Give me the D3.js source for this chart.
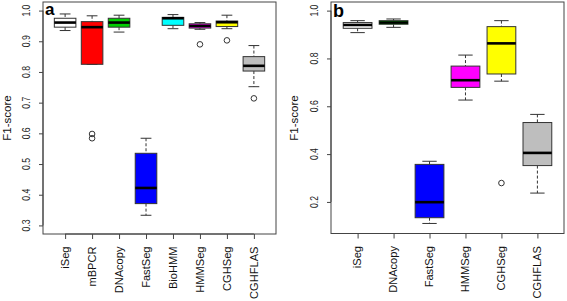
<!DOCTYPE html>
<html><head><meta charset="utf-8">
<script src="https://cdn.jsdelivr.net/npm/d3@7"></script>
<style>body{margin:0;background:#fff}svg{display:block;font-family:"Liberation Sans",Arial,sans-serif}</style>
</head><body><svg id="c" width="567" height="301"></svg>
<script>
// Panel a data
const catsA = ["iSeg","mBPCR","DNAcopy","FastSeg","BioHMM","HMMSeg","CGHSeg","CGHFLAS"];
const colorsA = ["#ffffff","#ff0000","#00cd00","#0000ff","#00ffff","#ff00ff","#ffff00","#bebebe"];
const lowA  = [0.935,0.825,0.930,0.333,0.941,0.939,0.941,0.752];
const q1A   = [0.946,0.825,0.946,0.371,0.952,0.943,0.948,0.803];
const medA  = [0.961,0.946,0.961,0.422,0.975,0.950,0.962,0.820];
const q3A   = [0.975,0.964,0.975,0.535,0.978,0.957,0.966,0.850];
const highA = [0.989,0.983,0.985,0.584,0.987,0.961,0.985,0.886];
const outA  = [[],[0.598,0.584],[],[],[],[0.890],[0.903],[0.714]];
const ticksA = [0.3,0.4,0.5,0.6,0.7,0.8,0.9,1.0];

// Panel b data
const catsB = ["iSeg","DNAcopy","FastSeg","HMMSeg","CGHSeg","CGHFLAS"];
const colorsB = ["#ffffff","#00cd00","#0000ff","#ff00ff","#ffff00","#bebebe"];
const lowB  = [0.908,0.930,0.110,0.626,0.705,0.237];
const q1B   = [0.926,0.943,0.134,0.679,0.735,0.352];
const medB  = [0.940,0.950,0.199,0.709,0.863,0.405];
const q3B   = [0.950,0.958,0.357,0.768,0.933,0.532];
const highB = [0.958,0.965,0.370,0.814,0.958,0.566];
const outB  = [[],[],[],[],[0.279],[]];
const ticksB = [0.2,0.4,0.6,0.8,1.0];

const svg = d3.select("#c");

function panel(cfg){
  const {left,right,top,bottom,yDomain,cats,colors,low,q1,med,q3,high,out,ticks,letter,letterY,letterSize,ylabX,tickLabX} = cfg;
  const n = cats.length;
  const pad = n * 0.04;
  const x = d3.scaleLinear().domain([0.5 - pad, n + 0.5 + pad]).range([left, right]);
  const y = d3.scaleLinear().domain(yDomain).range([bottom, top]);
  const step = x(2) - x(1);
  const bw = step * 0.8;
  const g = svg.append("g");

  // y axis
  const yAxis = d3.axisLeft(y).tickValues(ticks).tickSize(4).tickFormat("");
  const ya = g.append("g").attr("transform", `translate(${left},0)`).call(yAxis);
  ya.select(".domain").attr("stroke","none");
  ya.selectAll(".tick line").attr("stroke","#444");
  g.append("line").attr("x1",left).attr("x2",left).attr("y1",y(ticks[0])).attr("y2",y(ticks[ticks.length-1])).attr("stroke","#444");
  g.selectAll(".ytl").data(ticks).enter().append("text")
    .attr("transform", d => `translate(${tickLabX},${y(d)}) rotate(-90)`)
    .attr("text-anchor","middle").attr("font-size",11).attr("fill","#222")
    .attr("textLength", 12).attr("lengthAdjust","spacingAndGlyphs")
    .text(d => d3.format(".1f")(d));

  // x axis
  const xa = g.append("g").attr("transform", `translate(0,${bottom})`)
    .call(d3.axisBottom(x).tickValues(d3.range(1, n+1)).tickSize(5).tickFormat(""));
  xa.select(".domain").attr("stroke","none");
  xa.selectAll(".tick line").attr("stroke","#444");
  g.append("line").attr("x1",x(1)).attr("x2",x(n)).attr("y1",bottom).attr("y2",bottom).attr("stroke","#444");
  g.selectAll(".xtl").data(cats).enter().append("text")
    .attr("transform", (d,i) => `translate(${x(i+1)},${bottom+12.5}) rotate(-90)`)
    .attr("text-anchor","end").attr("dy","0.35em").attr("font-size",11.1).attr("fill","#111")
    .text(d => d);

  // frame
  g.append("rect").attr("x",left).attr("y",top).attr("width",right-left).attr("height",bottom-top)
    .attr("fill","none").attr("stroke","#444").attr("stroke-width",1);

  // boxes
  cats.forEach((c,i) => {
    const cx = x(i+1);
    const bg = g.append("g");
    bg.append("line").attr("x1",cx).attr("x2",cx).attr("y1",y(high[i])).attr("y2",y(q3[i]))
      .attr("stroke","#333").attr("stroke-dasharray","3,2");
    bg.append("line").attr("x1",cx).attr("x2",cx).attr("y1",y(q1[i])).attr("y2",y(low[i]))
      .attr("stroke","#333").attr("stroke-dasharray","3,2");
    [high[i], low[i]].forEach(v => {
      bg.append("line").attr("x1",cx-bw/4).attr("x2",cx+bw/4).attr("y1",y(v)).attr("y2",y(v)).attr("stroke","#333");
    });
    bg.append("rect").attr("x",cx-bw/2).attr("width",bw).attr("y",y(q3[i])).attr("height",Math.max(0.5,y(q1[i])-y(q3[i])))
      .attr("fill",colors[i]).attr("stroke","#333").attr("stroke-width",1);
    bg.append("line").attr("x1",cx-bw/2).attr("x2",cx+bw/2).attr("y1",y(med[i])).attr("y2",y(med[i]))
      .attr("stroke","#000").attr("stroke-width",2.6);
    out[i].forEach(v => {
      bg.append("circle").attr("cx",cx).attr("cy",y(v)).attr("r",2.8).attr("fill","none").attr("stroke","#333");
    });
  });

  // panel letter
  g.append("text").attr("x",left+2).attr("y",letterY).attr("font-size",letterSize).attr("font-weight","bold").text(letter);
  // y label
  g.append("text").attr("transform",`translate(${ylabX},118) rotate(-90)`).attr("text-anchor","middle")
    .attr("font-size",11.5).attr("fill","#111").text("F1-score");
}

panel({left:43,right:276,top:2,bottom:234,yDomain:[0.272,1.028],cats:catsA,colors:colorsA,low:lowA,q1:q1A,med:medA,q3:q3A,high:highA,out:outA,ticks:ticksA,letter:"a",letterY:15,letterSize:17,ylabX:11,tickLabX:30});
panel({left:331,right:564,top:2,bottom:233.5,yDomain:[0.068,1.036],cats:catsB,colors:colorsB,low:lowB,q1:q1B,med:medB,q3:q3B,high:highB,out:outB,ticks:ticksB,letter:"b",letterY:16.5,letterSize:18,ylabX:298,tickLabX:317.5});
</script></body></html>
